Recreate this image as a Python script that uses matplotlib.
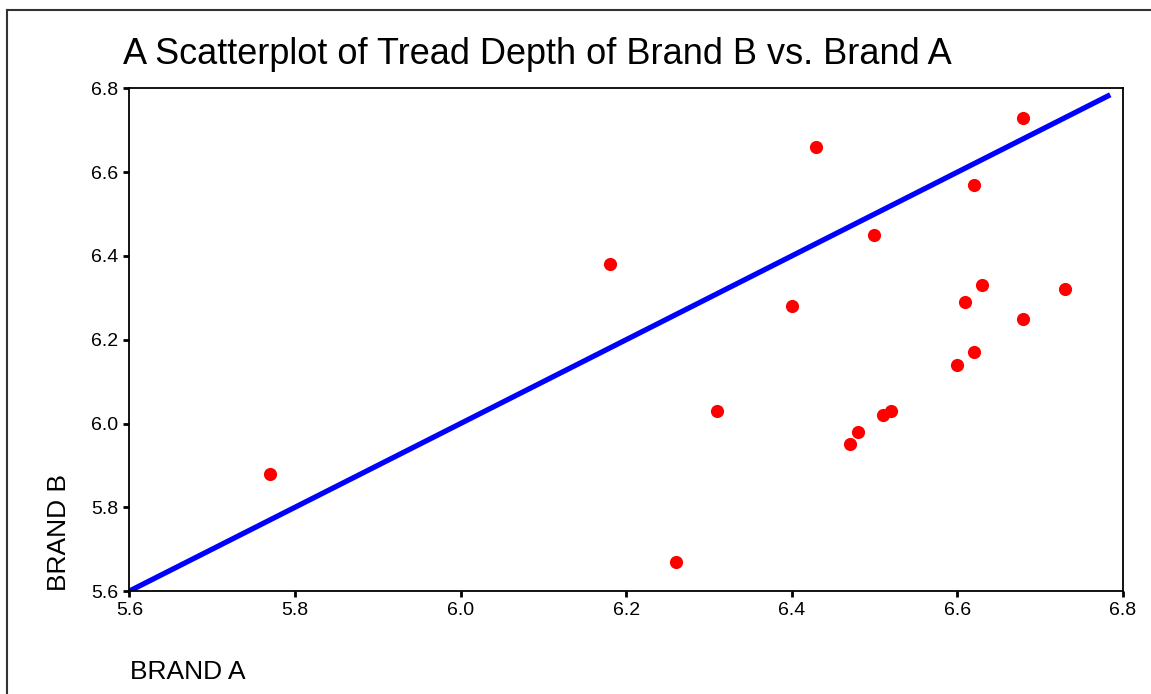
import matplotlib
matplotlib.use("Agg")
import matplotlib.pyplot as plt
from matplotlib.lines import Line2D

brand_a = [5.77, 6.18, 6.43, 6.62, 6.50, 6.40, 6.63, 6.61, 6.68, 6.31,
           6.62, 6.60, 6.52, 6.51, 6.48, 6.47, 6.26, 6.68, 6.73]
brand_b = [5.88, 6.38, 6.66, 6.57, 6.45, 6.28, 6.33, 6.29, 6.73, 6.03,
           6.17, 6.14, 6.03, 6.02, 5.98, 5.95, 5.67, 6.25, 6.32]
line_x = [5.6, 6.785]
line_y = [5.6, 6.785]
ticks = [5.6, 5.8, 6.0, 6.2, 6.4, 6.6, 6.8]
tick_labels = ["5.6", "5.8", "6.0", "6.2", "6.4", "6.6", "6.8"]

plt.rcParams['font.family'] = ['Liberation Sans', 'DejaVu Sans']

fig = plt.figure(figsize=(11.51, 6.94), dpi=100)
ax = fig.add_axes([0.1125, 0.1484, 0.9754 - 0.1125, 0.8725 - 0.1484])

ax.scatter(brand_a, brand_b, s=90, color='#ff0000', zorder=3, linewidths=0)
ax.plot(line_x, line_y, color='#0000ff', lw=3.8, solid_capstyle='butt', zorder=2)

ax.set_xlim(5.6, 6.8)
ax.set_ylim(5.6, 6.8)
ax.set_xticks(ticks)
ax.set_xticklabels(tick_labels)
ax.set_yticks(ticks)
ax.set_yticklabels(tick_labels)
ax.tick_params(direction='out', length=4, width=2, labelsize=14, pad=4, colors='black')
for sp in ax.spines.values():
    sp.set_linewidth(1.3)
    sp.set_color('black')

fig.text(123 / 1151, 1 - 63.5 / 694, "A Scatterplot of Tread Depth of Brand B vs. Brand A",
         fontsize=26, ha='left', va='baseline')
fig.text(130 / 1151, 1 - 672 / 694, "BRAND A", fontsize=19, ha='left', va='center')
fig.text(59 / 1151, 1 - 591 / 694, "BRAND B", fontsize=19, ha='center', va='bottom', rotation=90)

fig.add_artist(Line2D([7.5 / 1151, 7.5 / 1151], [0, 1 - 9.7 / 694], transform=fig.transFigure,
                      color='#333333', lw=1.5))
fig.add_artist(Line2D([7.5 / 1151, 1.0], [1 - 9.7 / 694, 1 - 9.7 / 694], transform=fig.transFigure,
                      color='#333333', lw=1.5))

fig.savefig("out.png", dpi=100)
